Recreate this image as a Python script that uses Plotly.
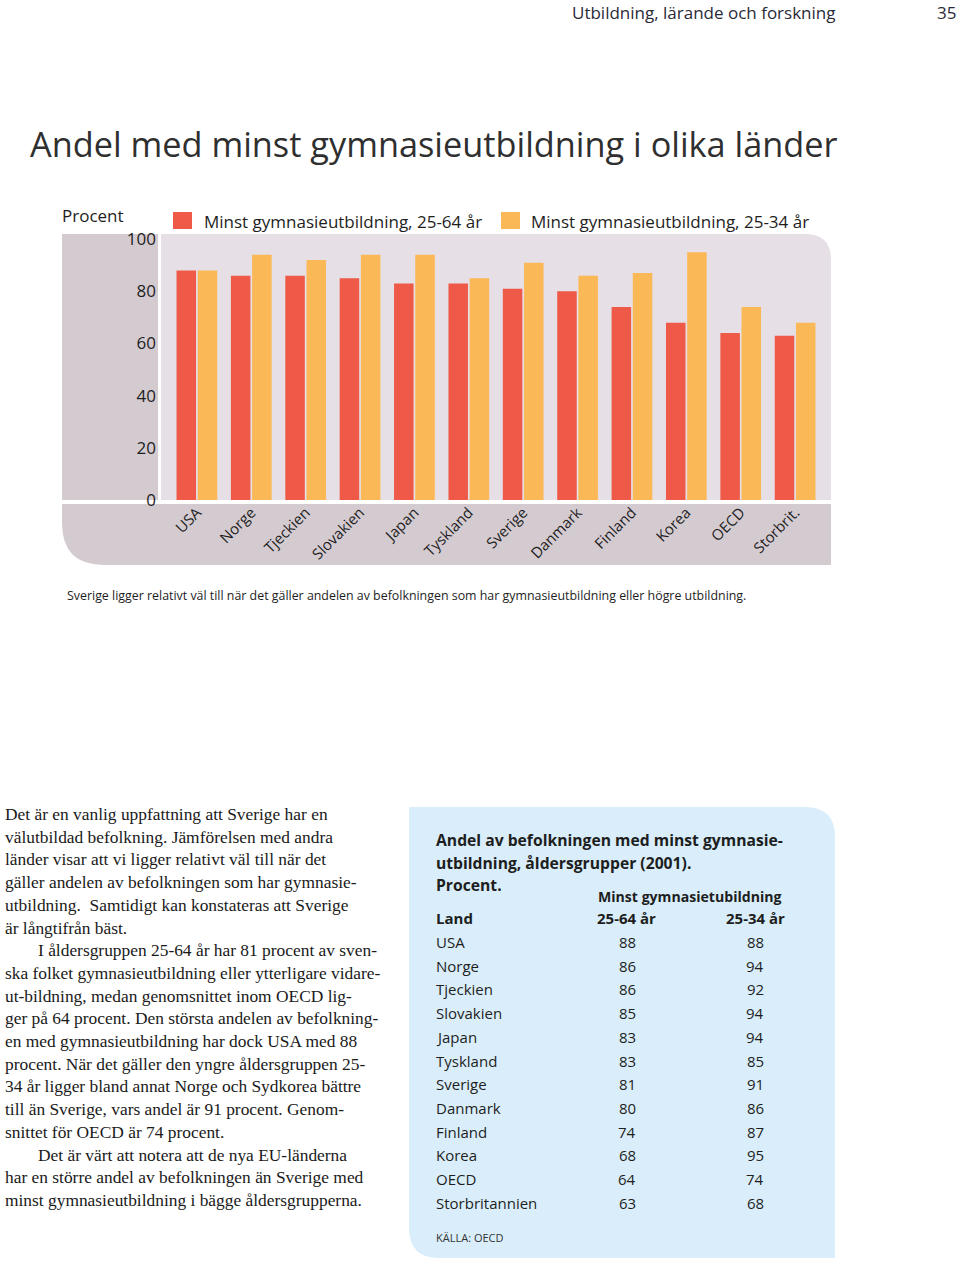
import plotly.graph_objects as go

W, H = 960, 1261

# ---------------- data ----------------
countries_axis = ["USA", "Norge", "Tjeckien", "Slovakien", "Japan", "Tyskland",
                  "Sverige", "Danmark", "Finland", "Korea", "OECD", "Storbrit."]
countries_table = ["USA", "Norge", "Tjeckien", "Slovakien", "Japan", "Tyskland",
                   "Sverige", "Danmark", "Finland", "Korea", "OECD", "Storbritannien"]
share_25_64 = [88, 86, 86, 85, 83, 83, 81, 80, 74, 68, 64, 63]
share_25_34 = [88, 94, 92, 94, 94, 85, 91, 86, 87, 95, 74, 68]
series_names = ["Minst gymnasieutbildning, 25-64 år", "Minst gymnasieutbildning, 25-34 år"]
y_ticks = [0, 20, 40, 60, 80, 100]

header_text = "Utbildning, lärande och forskning"
page_number = "35"
title_text = "Andel med minst gymnasieutbildning i olika länder"
y_unit = "Procent"
caption_text = ("Sverige ligger relativt väl till när det gäller andelen av befolkningen "
                "som har gymnasieutbildning eller högre utbildning.")
body_lines = [
    "Det är en vanlig uppfattning att Sverige har en",
    "välutbildad befolkning. Jämförelsen med andra",
    "länder visar att vi ligger relativt väl till när det",
    "gäller andelen av befolkningen som har gymnasie-",
    "utbildning.  Samtidigt kan konstateras att Sverige",
    "är långtifrån bäst.",
    "I åldersgruppen 25-64 år har 81 procent av sven-",
    "ska folket gymnasieutbildning eller ytterligare vidare-",
    "ut-bildning, medan genomsnittet inom OECD lig-",
    "ger på 64 procent. Den största andelen av befolkning-",
    "en med gymnasieutbildning har dock USA med 88",
    "procent. När det gäller den yngre åldersgruppen 25-",
    "34 år ligger bland annat Norge och Sydkorea bättre",
    "till än Sverige, vars andel är 91 procent. Genom-",
    "snittet för OECD är 74 procent.",
    "Det är värt att notera att de nya EU-länderna",
    "har en större andel av befolkningen än Sverige med",
    "minst gymnasieutbildning i bägge åldersgrupperna.",
]
indented_lines = [6, 15]
table_title_lines = ["Andel av befolkningen med minst gymnasie-",
                     "utbildning, åldersgrupper (2001).",
                     "Procent."]
table_group_header = "Minst gymnasietubildning"
table_col_headers = ["Land", "25-64 år", "25-34 år"]
source_text = "KÄLLA: OECD"

# ---------------- styling ----------------
RED = "#EE5A47"
YELLOW = "#FBB856"
PLOT_BG = "#E6DFE5"
PANEL = "#D4CBD1"
BOX = "#D9EEFA"
SANS = "Open Sans, Noto Sans, sans-serif"
SERIF = "Liberation Serif, DejaVu Serif, serif"
TXT = "#1e1e1e"


def px(x):
    return x / W


def py(y):
    return 1 - y / H


def P(x, y):
    return f"{px(x):.5f},{py(y):.5f}"


fig = go.Figure()
fig.add_trace(go.Bar(x=countries_axis, y=share_25_64, name=series_names[0],
                     marker=dict(color=RED, line=dict(width=0))))
fig.add_trace(go.Bar(x=countries_axis, y=share_25_34, name=series_names[1],
                     marker=dict(color=YELLOW, line=dict(width=0))))

# plot area geometry (pixels)
PL, PR, PT, PB = 161, 831, 234, 500

shapes = []
# rounded plot background (top-right corner)
r = 26
shapes.append(dict(type="path", xref="paper", yref="paper", layer="below",
                   path=f"M{P(PL,PB)} L{P(PL,PT)} L{P(PR-r,PT)} Q{P(PR,PT)} {P(PR,PT+r)} L{P(PR,PB)} Z",
                   fillcolor=PLOT_BG, line=dict(width=0)))
# left tick panel
shapes.append(dict(type="rect", xref="paper", yref="paper", layer="below",
                   x0=px(62), x1=px(158), y0=py(500), y1=py(PT),
                   fillcolor=PANEL, line=dict(width=0)))
# bottom label strip with rounded bottom-left
r2 = 42
SB0, SB1 = 504, 565
shapes.append(dict(type="path", xref="paper", yref="paper", layer="below",
                   path=f"M{P(62,SB0)} L{P(PR,SB0)} L{P(PR,SB1)} L{P(62+r2,SB1)} Q{P(62,SB1)} {P(62,SB1-r2)} Z",
                   fillcolor=PANEL, line=dict(width=0)))
# legend swatches
shapes.append(dict(type="rect", xref="paper", yref="paper", x0=px(173), x1=px(192),
                   y0=py(229), y1=py(212), fillcolor=RED, line=dict(width=0)))
shapes.append(dict(type="rect", xref="paper", yref="paper", x0=px(501), x1=px(520),
                   y0=py(229), y1=py(212), fillcolor=YELLOW, line=dict(width=0)))
# table box: square top-left & bottom-right, rounded top-right & bottom-left
BL, BR, BT, BB = 409, 835, 807, 1258
rb = 30
shapes.append(dict(type="path", xref="paper", yref="paper", layer="below",
                   path=(f"M{P(BL,BT)} L{P(BR-rb,BT)} Q{P(BR,BT)} {P(BR,BT+rb)} "
                         f"L{P(BR,BB)} L{P(BL+rb,BB)} Q{P(BL,BB)} {P(BL,BB-rb)} Z"),
                   fillcolor=BOX, line=dict(width=0)))

ann = []


def txt(x, y, s, size, family=SANS, color=TXT, xanchor="left", weight="normal"):
    ann.append(dict(x=px(x), y=py(y), xref="paper", yref="paper", text=s,
                    showarrow=False, xanchor=xanchor, yanchor="middle",
                    font=dict(size=size, family=family, color=color, weight=weight)))


# header & title
txt(570, 13, header_text, 17, color="#2a2a38")
txt(958, 13, page_number, 17, color="#2a2a38", xanchor="right")
txt(28, 143, title_text, 34.3, color="#2f2f2f")
txt(60, 215, y_unit, 17)
txt(202, 221, series_names[0], 17)
txt(529, 221, series_names[1], 17)
txt(65, 595, caption_text, 12.4)

# body text
y0, dy = 814, 22.7
for i, line in enumerate(body_lines):
    x = 36 if i in indented_lines else 3
    txt(x, y0 + i * dy, line, 17.4, family=SERIF, color="#1a1a1a")

# table
for i, line in enumerate(table_title_lines):
    txt(434, 840 + i * 22.5, line, 15.7, weight="bold")
txt(690, 896, table_group_header, 14.1, xanchor="center", weight="bold")
txt(434, 918, table_col_headers[0], 15, weight="bold")
txt(626, 918, table_col_headers[1], 15, xanchor="center", weight="bold")
txt(755, 918, table_col_headers[2], 15, xanchor="center", weight="bold")
r0, rdy = 942, 23.7
for i, (c, a, b) in enumerate(zip(countries_table, share_25_64, share_25_34)):
    yy = r0 + i * rdy
    txt(434, yy, c, 15)
    txt(627, yy, str(a), 15, xanchor="center")
    txt(755, yy, str(b), 15, xanchor="center")
txt(434, 1237, source_text, 11, color="#333333")

fig.update_layout(
    width=W, height=H,
    margin=dict(l=0, r=0, t=0, b=0),
    paper_bgcolor="white", plot_bgcolor="rgba(0,0,0,0)",
    showlegend=False,
    barmode="group", bargap=0.22, bargroupgap=0.08,
    shapes=shapes, annotations=ann,
    font=dict(family=SANS, color=TXT),
    xaxis=dict(domain=[px(PL), px(PR)], type="category", range=[-0.66, 11.66],
               tickangle=-45, tickfont=dict(size=15, family=SANS, color=TXT),
               showgrid=False, zeroline=False, showline=False, ticks="",
               automargin=False, fixedrange=True),
    yaxis=dict(domain=[py(PB), py(PT)], range=[0, 102], tickvals=y_ticks,
               tickfont=dict(size=17, family=SANS, color=TXT),
               showgrid=False, zeroline=False, showline=False, ticks="",
               ticklabelstandoff=4, automargin=False, fixedrange=True),
)

fig.write_html("out.html", config={"displayModeBar": False},
               post_script="document.body.style.margin='0px';")
